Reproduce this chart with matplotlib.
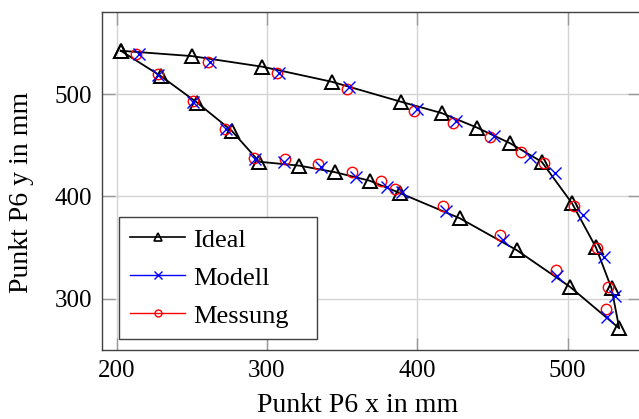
import numpy as np
import matplotlib
matplotlib.use("Agg")
import matplotlib.pyplot as plt
from matplotlib.lines import Line2D

# Ideal trajectory (closed loop)
ideal_x = [202.7, 229.3, 253.6, 276.5, 294.9, 321.5, 345.5, 368.3, 388.8, 428.4,
           466.1, 501.6, 534.4, 529.3, 518.9, 503.0, 482.8, 461.9, 439.7, 416.2,
           389.0, 343.1, 296.9, 249.9, 202.7]
ideal_y = [542.3, 517.6, 491.5, 464.1, 433.8, 430.0, 423.5, 415.3, 403.0, 378.5,
           347.5, 311.6, 271.0, 310.0, 350.1, 393.2, 433.8, 451.8, 467.2, 481.4,
           492.5, 512.0, 526.7, 537.1, 542.3]

# Modell (crosses)
modell_x = [227.7, 251.0, 272.7, 292.2, 311.5, 336.0, 359.5, 380.0, 389.6, 419.0,
            456.8, 493.2, 526.0, 531.5, 524.4, 510.4, 491.6, 475.0, 451.0, 426.0,
            399.6, 354.8, 308.0, 262.1, 215.0]
modell_y = [518.7, 492.5, 465.5, 436.8, 433.2, 428.5, 419.2, 409.4, 404.0, 386.0,
            357.3, 322.1, 282.3, 302.5, 341.0, 381.7, 422.5, 438.7, 458.5, 473.3,
            485.3, 506.5, 520.2, 531.0, 539.1]

# Messung (circles)
messung_x = [227.7, 251.0, 272.0, 291.1, 312.0, 334.1, 356.7, 376.0, 385.4, 416.8,
             455.0, 492.3, 525.5, 527.1, 519.4, 504.6, 484.5, 469.0, 448.3, 424.0,
             398.0, 353.0, 306.7, 260.9, 212.8]
messung_y = [519.3, 493.5, 466.1, 437.7, 436.2, 431.6, 423.3, 414.6, 407.6, 390.6,
             362.2, 328.0, 290.1, 311.6, 349.2, 391.0, 432.3, 443.3, 457.7, 472.0,
             483.7, 504.6, 520.2, 531.0, 539.1]

x_ticks = [200, 300, 400, 500]
y_ticks = [300, 400, 500]

plt.rcParams["font.family"] = ["Liberation Serif", "DejaVu Serif"]

fig = plt.figure(figsize=(6.39, 4.19), dpi=100)
ax = fig.add_axes([0.1596, 0.1647, 0.8419, 0.8067])

ax.plot(ideal_x, ideal_y, color="black", linewidth=1.3, marker="^", markersize=10.5,
        markerfacecolor="none", markeredgecolor="black", markeredgewidth=1.4, zorder=3)
ax.plot(messung_x, messung_y, linestyle="none", marker="o", markersize=7.5,
        markerfacecolor="none", markeredgecolor="red", markeredgewidth=1.0, zorder=4)
ax.plot(modell_x, modell_y, linestyle="none", marker="x", markersize=8.5,
        color="blue", markeredgewidth=1.0, zorder=5)

ax.set_xlim(190.2, 548.2)
ax.set_ylim(249.8, 580.2)
ax.set_xticks(x_ticks)
ax.set_yticks(y_ticks)
ax.grid(True, color="#d3d3d3", linewidth=1.0, zorder=0)
ax.set_axisbelow(True)
ax.tick_params(direction="in", top=True, right=True, length=9, width=1.0,
               color="#999999", labelsize=18, pad=7)
for sp in ax.spines.values():
    sp.set_color("#404040")
    sp.set_linewidth(1.0)

ax.set_xlabel("Punkt P6 x in mm", fontsize=20, va="center")
ax.set_ylabel("Punkt P6 y in mm", fontsize=20, va="center")
ax.xaxis.set_label_coords(0.475, -0.163)
ax.yaxis.set_label_coords(-0.149, 0.467)

handles = [
    Line2D([], [], color="black", linewidth=1.2, marker="^", markersize=6,
           markerfacecolor="none", markeredgewidth=1.2),
    Line2D([], [], color="blue", linewidth=1.0, marker="x", markersize=6),
    Line2D([], [], color="red", linewidth=1.0, marker="o", markersize=5,
           markerfacecolor="none"),
]
leg = ax.legend(handles, ["Ideal", "Modell", "Messung"], loc="upper left",
                bbox_to_anchor=(0.0316, 0.0355, 0.368, 0.358), mode="expand",
                borderaxespad=0, fontsize=19,
                frameon=True, fancybox=False, framealpha=1.0, handlelength=2.1,
                handletextpad=0.3, labelspacing=0.55, borderpad=0.42)
leg.get_frame().set_edgecolor("#404040")
leg.get_frame().set_linewidth(1.0)

fig.savefig("out.png", dpi=100)
